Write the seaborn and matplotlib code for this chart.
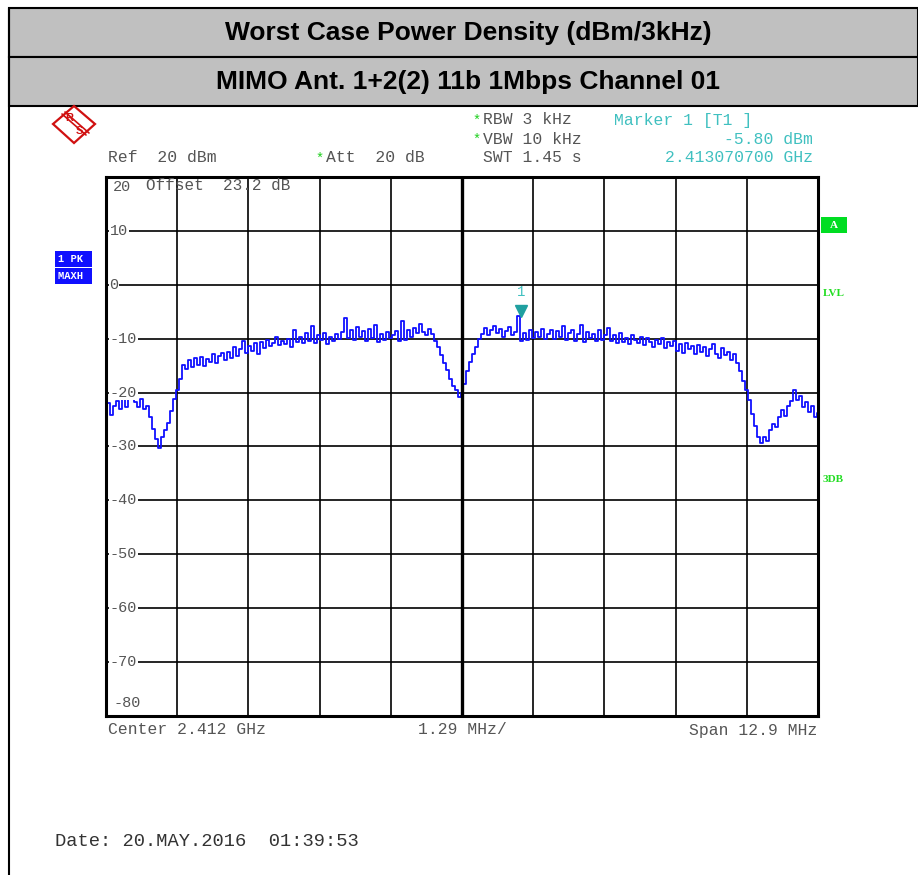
import numpy as np
import pandas as pd
import matplotlib
matplotlib.use("Agg")
import matplotlib.pyplot as plt
import matplotlib.patches as patches
import matplotlib.transforms as mtransforms
import seaborn as sns

# ---------------- data ----------------
title_1 = "Worst Case Power Density (dBm/3kHz)"
title_2 = "MIMO Ant. 1+2(2) 11b 1Mbps Channel 01"

center_ghz = 2.412
span_mhz = 12.9
ref_level = 20
y_ticks = [20, 10, 0, -10, -20, -30, -40, -50, -60, -70, -80]

# max-hold trace, dBm (left edge to right edge of the sweep)
level_dbm = [
    -23.5, -22.0, -24.2, -22.4, -21.6, -23.0, -21.2, -22.6, -20.6, -19.4,
    -21.8, -22.6, -21.2, -23.0, -22.4, -24.6, -26.8, -28.6, -30.2, -28.2,
    -27.0, -25.6, -23.4, -21.2, -19.6, -17.4, -14.8, -15.6, -14.0, -15.2,
    -13.6, -14.8, -13.4, -15.0, -13.8, -14.4, -12.8, -14.6, -13.2, -12.6,
    -14.0, -12.4, -13.6, -11.6, -13.2, -12.0, -10.4, -12.6, -11.4, -12.2,
    -10.8, -12.8, -10.6, -11.8, -10.2, -11.4, -10.8, -9.6, -11.2, -10.4,
    -11.0, -10.0, -11.6, -8.4, -10.6, -9.6, -10.8, -9.0, -10.4, -7.6,
    -10.8, -9.4, -10.2, -9.0, -11.0, -9.6, -10.4, -9.2, -10.0, -8.8,
    -6.2, -9.8, -8.4, -10.2, -7.8, -9.6, -8.6, -10.4, -8.2, -9.8,
    -7.4, -10.6, -9.2, -10.2, -8.8, -9.8, -9.4, -8.6, -10.4, -6.8,
    -10.2, -8.4, -9.6, -8.0, -9.0, -7.2, -8.8, -9.4, -8.2, -9.2,
    -10.4, -11.6, -13.0, -14.6, -15.8, -17.4, -18.8, -19.6, -20.8, -20.0,
    -18.4, -16.0, -14.4, -12.8, -11.6, -10.0, -9.2, -8.0, -9.4, -8.4,
    -7.6, -9.0, -8.2, -9.6, -8.6, -7.8, -9.4, -8.8, -5.8, -10.4,
    -9.0, -10.2, -8.4, -9.8, -8.8, -9.6, -8.2, -10.0, -9.2, -8.4,
    -10.0, -8.6, -9.6, -7.6, -10.2, -9.0, -8.4, -10.4, -9.2, -7.4,
    -10.6, -8.8, -9.8, -9.2, -10.4, -8.4, -10.2, -9.4, -8.0, -10.4,
    -9.4, -10.8, -9.0, -10.6, -9.8, -11.0, -9.4, -10.2, -10.8, -9.6,
    -11.2, -9.8, -10.6, -11.6, -10.2, -11.0, -9.8, -11.8, -10.6, -11.4,
    -10.4, -12.2, -11.0, -12.6, -10.8, -12.0, -11.4, -12.8, -11.2, -12.4,
    -11.6, -13.2, -12.0, -11.0, -12.8, -13.6, -11.8, -13.0, -12.4, -14.0,
    -12.8, -14.6, -16.0, -17.8, -19.6, -21.4, -24.0, -26.2, -28.2, -29.4,
    -28.2, -29.0, -27.0, -25.8, -26.4, -24.6, -23.2, -24.4, -22.4, -21.6,
    -19.6, -21.4, -20.6, -22.6, -21.8, -23.6, -22.4, -24.6, -23.8,
]

marker_ghz = 2.413070700
marker_dbm = -5.80

# evenly spaced sweep points over the span
freq_mhz = np.linspace(-span_mhz / 2, span_mhz / 2, len(level_dbm))
df = pd.DataFrame({"freq": freq_mhz, "level": level_dbm})
marker_mhz = (marker_ghz - center_ghz) * 1000

# ---------------- figure ----------------
sns.set_style("white")
plt.rcParams["font.family"] = ["Liberation Mono", "DejaVu Sans Mono"]

W, H = 918, 875
fig = plt.figure(figsize=(W / 100, H / 100), dpi=100)


def fx(x):
    return x / W


def fy(y):
    return 1 - y / H


# header bands
for top, txt in [(8, title_1), (57, title_2)]:
    fig.patches.append(patches.Rectangle((fx(9), fy(top + 49)), fx(W - 9), 49 / H,
                                         transform=fig.transFigure, facecolor="#c0c0c0",
                                         edgecolor="black", lw=1.5))
    fig.text(fx(468), fy(top + 25), txt, ha="center", va="center", fontsize=19,
             fontweight="bold", family="Liberation Sans", color="black")
# left border line
fig.add_artist(plt.Line2D([fx(9), fx(9)], [0, fy(8)], color="black", lw=1.5,
                          transform=fig.transFigure))

ax = fig.add_axes([fx(106), fy(716), fx(818 - 106), (716 - 177) / H])
sns.lineplot(data=df, x="freq", y="level", ax=ax, color="#1010ff", lw=1.3,
             drawstyle="steps-mid", estimator=None, sort=False)
ax.set_xlim(-span_mhz / 2, span_mhz / 2)
ax.set_ylim(-80, 20)
ax.set_xticks(np.linspace(-span_mhz / 2, span_mhz / 2, 11))
ax.set_yticks(y_ticks)
ax.set_xticklabels([])
ax.set_yticklabels([])
ax.tick_params(length=0)
ax.grid(True, color="black", lw=1.2)
ax.axvline(0, color="black", lw=2.4)
ax.set_xlabel("")
ax.set_ylabel("")
for sp in ax.spines.values():
    sp.set_color("black")
    sp.set_linewidth(2.2)

gray = "#555555"
for t in y_ticks:
    if t == 20:
        ax.text(0.01, t - 1.8, str(t), transform=ax.get_yaxis_transform(), ha="left",
                va="center", color=gray, fontsize=11)
    elif t == -80:
        ax.text(0.01, t + 2.4, str(t), transform=ax.get_yaxis_transform(), ha="left",
                va="center", color=gray, fontsize=11)
    else:
        ax.text(0.005, t, str(t), transform=ax.get_yaxis_transform(), ha="left",
                va="center", color=gray, fontsize=11,
                bbox=dict(facecolor="white", edgecolor="none", pad=0.5))
ax.text(0.056, ref_level - 1.5, "Offset  23.2 dB", transform=ax.get_yaxis_transform(),
        ha="left", va="center", color=gray, fontsize=11.5)

# marker 1
teal = "#20a0a0"
trans = mtransforms.offset_copy(ax.transData, fig=fig, x=0, y=5, units="dots")
ax.plot([marker_mhz], [marker_dbm], marker="v", markersize=8, color=teal,
        transform=trans, ls="none")
ax.annotate("1", xy=(marker_mhz, marker_dbm), xytext=(0, 17), textcoords="offset points",
            ha="center", va="center", color="#40c0c0", fontsize=10)

# instrument settings text
fs = 11.8
fig.text(fx(108), fy(158), "Ref  20 dBm", color=gray, fontsize=fs, va="center")
fig.text(fx(315), fy(159), "*", color="#20d020", fontsize=fs - 2, va="center")
fig.text(fx(326), fy(158), "Att  20 dB", color=gray, fontsize=fs, va="center")
fig.text(fx(472), fy(121), "*", color="#20d020", fontsize=fs - 2, va="center")
fig.text(fx(483), fy(120), "RBW 3 kHz", color=gray, fontsize=fs, va="center")
fig.text(fx(472), fy(140), "*", color="#20d020", fontsize=fs - 2, va="center")
fig.text(fx(483), fy(139), "VBW 10 kHz", color=gray, fontsize=fs, va="center")
fig.text(fx(483), fy(158), "SWT 1.45 s", color=gray, fontsize=fs, va="center")
fig.text(fx(614), fy(120), "Marker 1 [T1 ]", color="#40c0c0", fontsize=fs, va="center")
fig.text(fx(813), fy(139), f"{marker_dbm:.2f} dBm", color="#40c0c0", fontsize=fs,
         va="center", ha="right")
fig.text(fx(813), fy(158), f"{marker_ghz:.9f} GHz", color="#40c0c0", fontsize=fs,
         va="center", ha="right")

fig.text(fx(108), fy(730), f"Center {center_ghz} GHz", color=gray, fontsize=fs, va="center")
fig.text(fx(462), fy(730), f"{span_mhz / 10:.2f} MHz/", color=gray, fontsize=fs,
         va="center", ha="center")
fig.text(fx(817), fy(730), f"Span {span_mhz} MHz", color=gray, fontsize=fs,
         va="center", ha="right")
fig.text(fx(55), fy(841), "Date: 20.MAY.2016  01:39:53", color="#333333", fontsize=13.5,
         va="center")

# side annotations
blue_box = dict(facecolor="#1010ff", edgecolor="none", pad=2)
fig.text(fx(58), fy(259), "1 PK ", color="white", fontsize=7.5, va="center",
         fontweight="bold", bbox=blue_box)
fig.text(fx(58), fy(276), "MAXH ", color="white", fontsize=7.5, va="center",
         fontweight="bold", bbox=blue_box)
fig.patches.append(patches.Rectangle((fx(821), fy(233)), 26 / W, 16 / H,
                                     transform=fig.transFigure, facecolor="#00dd22",
                                     edgecolor="none"))
fig.text(fx(834), fy(225), "A", color="white", fontsize=8, va="center", ha="center",
         fontweight="bold", family="Liberation Serif")
fig.text(fx(823), fy(293), "LVL", color="#22dd22", fontsize=8, va="center",
         fontweight="bold", family="Liberation Serif")
fig.text(fx(823), fy(480), "3DB", color="#22dd22", fontsize=8, va="center",
         fontweight="bold", family="Liberation Serif")

# R&S logo
red = "#d01010"
fig.patches.append(patches.Polygon([(fx(53), fy(124)), (fx(74), fy(106)), (fx(95), fy(124)),
                                    (fx(74), fy(143))], closed=True, transform=fig.transFigure,
                                   facecolor="white", edgecolor=red, lw=1.6))
fig.add_artist(plt.Line2D([fx(62), fx(86)], [fy(114), fy(135)], color=red, lw=1.2,
                          transform=fig.transFigure))
fig.add_artist(plt.Line2D([fx(65), fx(89)], [fy(112), fy(133)], color=red, lw=1.2,
                          transform=fig.transFigure))
fig.text(fx(69), fy(118), "R", color=red, fontsize=8, ha="center", va="center",
         fontweight="bold", family="Liberation Sans")
fig.text(fx(79), fy(131), "S", color=red, fontsize=8, ha="center", va="center",
         fontweight="bold", family="Liberation Sans")

fig.savefig("out.png", dpi=100)
